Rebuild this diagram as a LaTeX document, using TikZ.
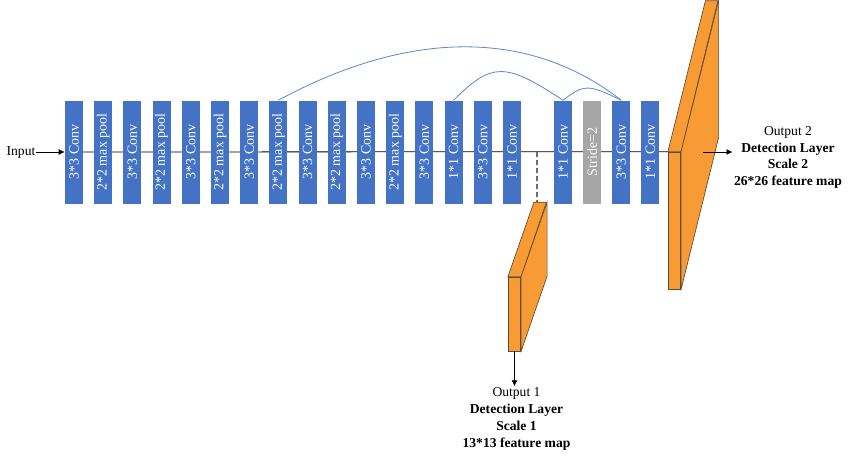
\documentclass[tikz,border=0pt]{standalone}
\usepackage{fontspec}
\setmainfont{Liberation Serif}
\usepackage{graphicx}
\usetikzlibrary{calc,arrows.meta,backgrounds}

\definecolor{convblue}{RGB}{68,114,196}
\definecolor{stridegray}{RGB}{166,166,166}
\definecolor{mapfill}{RGB}{249,155,52}
\definecolor{mapedge}{RGB}{95,75,55}
\definecolor{skipblue}{RGB}{94,134,193}
\definecolor{tapgray}{RGB}{110,110,110}

\tikzset{
  convbox/.style={fill=convblue, text=white, inner sep=0pt, minimum width=13.5pt, minimum height=77.25pt, font=\fontsize{10.5}{12}\selectfont},
  mapface/.style={fill=mapfill, draw=mapedge, line width=0.5pt},
  skiparc/.style={draw=skipblue, line width=0.6pt},
  flowarrow/.style={-{Latex[length=4.5pt,width=4.5pt]}, line width=0.6pt},
  tapline/.style={draw=tapgray, line width=0.9pt, dash pattern=on 4pt off 2pt},
  outtext/.style={align=center, inner sep=1pt, font=\fontsize{10.2}{12.6}\selectfont},
}

\begin{document}
\begin{tikzpicture}[x=0.75pt,y=0.75pt,yscale=-1,xscale=1]
\useasboundingbox (0,0) rectangle (850,458);

%Backbone layers, first run
\foreach \lbl [count=\i] in {3*3 Conv,2*2 max pool,3*3 Conv,2*2 max pool,3*3 Conv,2*2 max pool,3*3 Conv,2*2 max pool,3*3 Conv,2*2 max pool,3*3 Conv,2*2 max pool,3*3 Conv,1*1 Conv,3*3 Conv,1*1 Conv}
  \node [convbox] (b\i) at ({74+29.2*(\i-1)},152) {\rotatebox{90}{\lbl}};
%Layers after the first output
\foreach \lbl/\col [count=\j from 17] in {1*1 Conv/convblue,Stride=2/stridegray,3*3 Conv/convblue,1*1 Conv/convblue}
  \node [convbox, fill=\col] (b\j) at ({563+29.1*(\j-17)},152) {\rotatebox{90}{\lbl}};

%Shape: feature map 1
\node [mapface, minimum width=9.375pt, minimum height=55.5pt, inner sep=0pt] (fm1) at (514.5,314) {};
\draw [mapface] (fm1.north west) -- ++(26,-74.5) -- ++(12.5,0) -- (fm1.north east) -- cycle ;
\draw [mapface] (fm1.north east) -- ++(26,-74.5) -- ++(0,74) -- (fm1.south east) -- cycle ;
\coordinate (fm1back) at ($(fm1.north west)+(26,-74.5)$);
%Shape: feature map 2
\node [mapface, minimum width=9.375pt, minimum height=102.75pt, inner sep=0pt] (fm2) at (674.5,220.5) {};
\draw [mapface] (fm2.north west) -- ++(37.5,-151) -- ++(12.5,0) -- (fm2.north east) -- cycle ;
\draw [mapface] (fm2.north east) -- ++(37.5,-151) -- ++(0,137) -- (fm2.south east) -- cycle ;

%Straight Lines: backbone
\begin{scope}[on background layer]
\draw [line width=0.6pt] (b1.center) -- (fm2.north west) ;
\end{scope}
%Straight Lines: tap to output 1
\coordinate (tap) at (537,152);
\draw [tapline] (tap) -- (tap |- fm1back) ;

%Curve Lines: skip connections
\draw [skiparc] (b8.north) .. controls (410,29) and (530,29) .. (b19.north) ;
\draw [skiparc] (b14.north) .. controls (492,62) and (505,62) .. (b17.north) ;
\draw [skiparc] (b17.north) .. controls (584,84) and (588,84) .. (b19.north) ;

% Text Node
\node [inner sep=0pt, font=\fontsize{10.2}{12}\selectfont] (in) at (21,152) {Input};
\draw [flowarrow] (in) -- (b1) ;
% Text Node
\node [outtext] (out1) at (516.5,419) {Output 1\\\textbf{Detection Layer}\\\textbf{Scale 1}\\\textbf{13*13 feature map}};
\draw [flowarrow] (fm1.south) -- (fm1.south |- out1.north) ;
% Text Node
\node [outtext] (out2) at (788,157.5) {Output 2\\\textbf{Detection Layer}\\\textbf{Scale 2}\\\textbf{26*26 feature map}};
\coordinate (emit) at (703,152);
\draw [flowarrow] (emit) -- (emit -| out2.west) ;

\end{tikzpicture}
\end{document}
